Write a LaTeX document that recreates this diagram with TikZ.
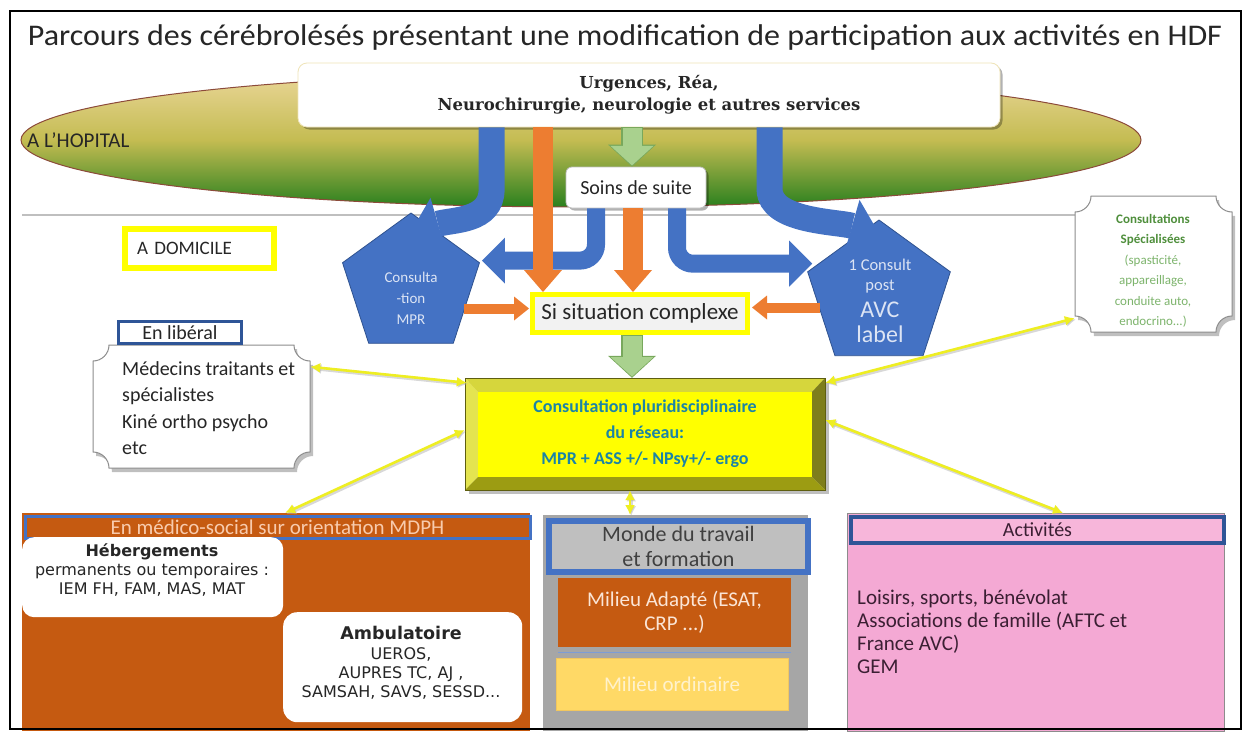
\documentclass[tikz,border=0pt]{standalone}
\usepackage{fontspec}
\setmainfont{Carlito}
\newfontfamily\serifbf{DejaVu Serif}
\newfontfamily\verd{DejaVu Sans}
\usetikzlibrary{arrows.meta,shapes.geometric,shadows,calc}
\newcommand\fsz[2]{\fontsize{#1}{#2}\selectfont}
\definecolor{cblue}{HTML}{4472C4}
\definecolor{cbluedk}{HTML}{2F528F}
\definecolor{cdblue}{HTML}{2F5597}
\definecolor{corange}{HTML}{ED7D31}
\definecolor{cgreenf}{HTML}{A9D18E}
\definecolor{cgreend}{HTML}{78A85C}
\definecolor{cyel}{HTML}{FFFF00}
\definecolor{cya}{HTML}{EEEE22}
\definecolor{cbrown}{HTML}{C55A11}
\definecolor{cpeach}{HTML}{F8CBAD}
\definecolor{cgray}{HTML}{A6A6A6}
\definecolor{cgrayl}{HTML}{BFBFBF}
\definecolor{cdgray}{HTML}{404040}
\definecolor{cadapt}{HTML}{FBE5D6}
\definecolor{cordi}{HTML}{FFD966}
\definecolor{corditx}{HTML}{FFF2CC}
\definecolor{cpink}{HTML}{F4A9D4}
\definecolor{cpinkh}{HTML}{F7B6DA}
\definecolor{cpurp}{HTML}{3B1F33}
\definecolor{cteal}{HTML}{1B84A6}
\definecolor{cspeca}{HTML}{4F8F3C}
\definecolor{cspecb}{HTML}{7DB46C}
\definecolor{ctitle}{HTML}{262626}
\definecolor{chosp}{HTML}{8C4A3A}
\definecolor{chtop}{HTML}{EAD698}
\definecolor{chmid}{HTML}{C4BC52}
\definecolor{chbot}{HTML}{2A801E}
\definecolor{curgb}{HTML}{EFE4B8}
\definecolor{csig}{HTML}{F2F2F2}
\definecolor{bevtop}{HTML}{D6D63C}
\definecolor{bevleft}{HTML}{E4E450}
\definecolor{bevright}{HTML}{7E7E1C}
\definecolor{bevbot}{HTML}{9C9C12}
\definecolor{bevedge}{HTML}{5E5E10}
\definecolor{cptext}{HTML}{DCE4F4}
\begin{document}
\begin{tikzpicture}[x=1pt,y=-1pt,
  every node/.style={inner sep=0pt},
  shad/.style={drop shadow={shadow xshift=2.5pt,shadow yshift=-2.5pt,opacity=0.3,fill=black}},
  pent/.style={regular polygon,regular polygon sides=5,fill=cblue,draw=cbluedk,line width=0.8},
  ptext/.style={align=center,text=cptext},
  bigblue/.style={draw=cblue,line width=26,-{Triangle[length=28pt,width=54pt,line width=0pt]}},
  smallblue/.style={draw=cblue,line width=18,rounded corners=16,-{Triangle[length=23pt,width=46pt,line width=0pt]}},
  orv/.style={draw=corange,line width=20,-{Triangle[length=22pt,width=38pt,line width=0pt]}},
  orh/.style={draw=corange,line width=10,-{Triangle[length=15pt,width=24pt,line width=0pt]}},
  grnout/.style={draw=cgreend,line width=22,-{Triangle[length=22pt,width=48pt,line width=0pt]}},
  grnin/.style={draw=cgreenf,line width=19,-{Triangle[length=19.5pt,width=43pt,line width=0pt]}},
  ya/.style={draw=cya,line width=2.6,{Latex[length=10pt,width=10pt]}-{Latex[length=10pt,width=10pt]},
    preaction={draw=black!30,line width=4,opacity=0.5,transform canvas={shift={(1.2pt,-1.2pt)}}}},
  plaque/.style={fill=white,draw=black!45,line width=1}
]
\fill[white] (0,0) rectangle (1250,731);
\useasboundingbox (0,0) rectangle (1250,731);

% hospital band
\draw[black!25,line width=1.5] (22,215) -- (1075,215);
\node[ellipse,minimum width=1120,minimum height=134,draw=chosp,line width=1,
  top color=chtop,bottom color=chbot,middle color=chmid] (hop) at (581,140) {};
\node[anchor=west,font=\fsz{21}{21},text=ctitle] (hoplbl) at (27,140) {A L’HOPITAL};

% pentagons
\node[pent,minimum size=144] (mpr) at (411,285) {};
\node[pent,minimum size=150] (avc) at (879,295) {};

% top boxes
\node[fill=white,draw=curgb,line width=0.8,rounded corners=9,minimum width=702,minimum height=64,shad,
  align=center,font=\serifbf\bfseries\fsz{16.5}{22},text=ctitle] (urg) at (649,95)
  {Urgences, Réa,\\Neurochirurgie, neurologie et autres services};
\node[fill=white,draw=black!25,line width=0.8,rounded corners=6,minimum width=140,minimum height=41,shad,
  font=\fsz{20}{20},text=ctitle] (soins) at (636,187.5) {Soins de suite};
\node[fill=csig,draw=cyel,line width=5,minimum width=215,minimum height=38,shad,
  font=\fsz{23}{23},text=ctitle] (si) at (640,313.5) {Si situation complexe};

% bevel box
\fill[black,opacity=0.25] (469,382) rectangle (829,494);
\fill[bevtop] (465,378) -- (825,378) -- (812,392) -- (478,392) -- cycle;
\fill[bevleft] (465,378) -- (478,392) -- (478,477) -- (465,490) -- cycle;
\fill[bevright] (825,378) -- (825,490) -- (812,477) -- (812,392) -- cycle;
\fill[bevbot] (465,490) -- (478,477) -- (812,477) -- (825,490) -- cycle;
\fill[cyel] (478,392) rectangle (812,477);
\draw[bevedge,line width=0.8] (465,378) rectangle (825,490);
\node[minimum width=360,minimum height=112,align=center,font=\bfseries\fsz{18}{26},text=cteal] (pluri) at (645,434)
  {Consultation pluridisciplinaire\\du réseau:\\MPR + ASS +/- NPsy+/- ergo};

% blue arrows
\coordinate (bl) at ($(urg.south west)+(194,0)$);
\coordinate (br) at ($(urg.south west)+(472,0)$);
\draw[bigblue] (bl) -- ++(0,62) .. controls +(0,32) and +(42,-12) .. ($(mpr.corner 1)+(0,19)$);
\draw[bigblue] (br) -- ++(0,62) .. controls +(0,32) and +(-42,-12) .. ($(avc.corner 1)+(0,14)$);
\draw[smallblue] ($(soins.south)+(-40,0)$) |- ($(mpr.corner 5)+(2,-2)$);
\draw[smallblue] ($(soins.south)+(41,0)$) |- ($(avc.corner 2)+(5,-8)$);

% pentagon texts
\node[ptext,font=\fsz{15}{21}] (mprt) at (411,298) {Consulta\\-tion\\MPR};
\node[ptext,font=\fsz{16.5}{20}] (avct) at (880,301) {1 Consult\\post\\[7pt]{\fsz{24}{25}AVC}\\[5pt]{\fsz{24}{25}label}};

% orange arrows
\coordinate (o1) at ($(si.north west)+(13,0)$);
\coordinate (o2) at ($(si.north)+(-7,0)$);
\draw[orv] (urg.south -| o1) -- (o1);
\draw[orv] (soins.south -| o2) -- (o2);
\draw[orh] ($(si.west)+(-66,-5)$) -- ($(si.west)+(-1,-5)$);
\draw[orh] ($(si.east)+(70,-6)$) -- ($(si.east)+(2,-6)$);

% green arrows
\coordinate (gx) at ($(si.north)+(-8,0)$);
\draw[grnout] (urg.south -| gx) -- (soins.north -| gx);
\draw[grnin] ($(urg.south -| gx)+(0,1)$) -- ($(soins.north -| gx)+(0,-1.2)$);
\draw[grnout] (si.south -| gx) -- (pluri.north -| gx);
\draw[grnin] ($(si.south -| gx)+(0,1)$) -- ($(pluri.north -| gx)+(0,-1.2)$);

% A domicile
\node[fill=white,draw=cyel,line width=6,minimum width=149,minimum height=39,shad,
  text width=125,inner xsep=12,align=left,font=\fsz{19}{19},text=ctitle] (dom) at (199.5,248.5) {A DOMICILE};

% En liberal plaque
\fill[black,opacity=0.25] (112,349) -- (297,349) .. controls (297,357.8) and (304.2,365) .. (313,365) -- (313,456) .. controls (304.2,456) and (297,463.2) .. (297,472) -- (112,472) .. controls (112,463.2) and (104.8,456) .. (96,456) -- (96,365) .. controls (104.8,365) and (112,357.8) .. (112,349) -- cycle;
\draw[plaque] (109,345) -- (294,345) .. controls (294,353.8) and (301.2,361) .. (310,361) -- (310,452) .. controls (301.2,452) and (294,459.2) .. (294,468) -- (109,468) .. controls (109,459.2) and (101.8,452) .. (93,452) -- (93,361) .. controls (101.8,361) and (109,353.8) .. (109,345) -- cycle;
\node[minimum width=217,minimum height=123] (lib) at (201.5,406.5) {};
\node[anchor=west,align=left,font=\fsz{20}{26.3},text=ctitle] (libt) at (122,408)
  {Médecins traitants et\\spécialistes\\Kiné ortho psycho\\etc};
\node[fill=white,draw=cdblue,line width=3,minimum width=123,minimum height=22,font=\fsz{20}{20},text=ctitle] (libh) at (180,332.5) {En libéral};

% Consultations specialisees plaque
\fill[black,opacity=0.25] (1094,200) -- (1219,200) .. controls (1219,208.8) and (1226.2,216) .. (1235,216) -- (1235,320) .. controls (1226.2,320) and (1219,327.2) .. (1219,336) -- (1094,336) .. controls (1094,327.2) and (1086.8,320) .. (1078,320) -- (1078,216) .. controls (1086.8,216) and (1094,208.8) .. (1094,200) -- cycle;
\draw[plaque] (1091,196) -- (1216,196) .. controls (1216,204.8) and (1223.2,212) .. (1232,212) -- (1232,316) .. controls (1223.2,316) and (1216,323.2) .. (1216,332) -- (1091,332) .. controls (1091,323.2) and (1083.8,316) .. (1075,316) -- (1075,212) .. controls (1083.8,212) and (1091,204.8) .. (1091,196) -- cycle;
\node[minimum width=157,minimum height=136] (spec) at (1153.5,264) {};
\node[align=center,font=\fsz{13}{20.5}] (spect) at (1153,271)
  {\textcolor{cspeca}{\bfseries Consultations}\\\textcolor{cspeca}{\bfseries Spécialisées}\\\textcolor{cspecb}{(spasticité,}\\\textcolor{cspecb}{appareillage,}\\\textcolor{cspecb}{conduite auto,}\\\textcolor{cspecb}{endocrino...)}};

% medico-social panel
\node[fill=cbrown,minimum width=508,minimum height=218,anchor=north west] (med) at (22,513) {};
\node[draw=cblue,line width=3,minimum width=505,minimum height=22,anchor=north west,
  font=\fsz{21}{21},text=cpeach] (medh) at (23.5,514.5) {En médico-social sur orientation MDPH};
\node[fill=white,rounded corners=12,minimum width=261,minimum height=80,anchor=north west] (heb) at (22,537) {};
\node[align=center,font=\verd\fsz{16}{19},text=ctitle] (hebt) at (152,570)
  {{\bfseries Hébergements}\\permanents ou temporaires :\\IEM FH, FAM, MAS, MAT};
\node[fill=white,rounded corners=14,minimum width=239,minimum height=110,anchor=north west] (amb) at (283,612) {};
\node[align=center,font=\verd\fsz{16}{19.3},text=ctitle] (ambt) at (401,663)
  {{\fsz{17.5}{19.3}\bfseries Ambulatoire}\\UEROS,\\AUPRES TC, AJ ,\\SAMSAH, SAVS, SESSD...};

% travail panel
\node[fill=cgray,minimum width=265,minimum height=216,anchor=north west] (trav) at (543,515) {};
\node[fill=cgrayl,draw=cblue,line width=6,minimum width=259,minimum height=51,anchor=north west,
  align=center,font=\fsz{22}{25},text=cdgray] (travh) at (546,518) {Monde du travail\\et formation};
\node[fill=cbrown,minimum width=233,minimum height=69,align=center,font=\fsz{21}{24},text=cadapt] (adap) at (674.5,612.5)
  {Milieu Adapté (ESAT,\\CRP ...)};
\draw[cblue!70,line width=1] (558,652) -- (791,652);
\node[fill=cordi,draw=cordi!80!brown,line width=0.6,minimum width=232,minimum height=52,font=\fsz{21}{21},text=corditx] (ordi) at (672,684)
  {Milieu ordinaire};

% activites panel
\node[fill=cpink,draw=black!45,line width=0.8,minimum width=377,minimum height=218,anchor=north west] (act) at (847,513) {};
\node[fill=cpinkh,draw=cdblue,line width=4,minimum width=373,minimum height=26,anchor=north west,
  font=\fsz{20}{20},text=cpurp] (acth) at (849,515) {Activités};
\node[anchor=west,align=left,font=\fsz{21}{23},text=cpurp] (actt) at (857,632)
  {Loisirs, sports, bénévolat\\Associations de famille (AFTC et\\France AVC)\\GEM};

% yellow double arrows
\draw[ya] ($(lib.north east)+(0,22)$) -- ($(pluri.north west)+(2,5)$);
\draw[ya] ($(pluri.west)+(0,-4)$) -- ($(med.north west)+(263,0)$);
\coordinate (yx) at ($(pluri.south)+(-15,0)$);
\draw[ya] (yx) -- (trav.north -| yx);
\draw[ya] ($(pluri.north east)+(0,5)$) -- ($(spec.south west)+(0,-14)$);
\draw[ya] ($(pluri.east)+(0,-14)$) -- ($(act.north west)+(216,0)$);

% title and frame
\node[font=\fsz{30}{30},text=ctitle] (title) at (625,37)
  {\resizebox{1194pt}{\height}{Parcours des cérébrolésés présentant une modification de participation aux activités en HDF}};
\draw[black,line width=2.5] (10,11) rectangle (1241,729);
\end{tikzpicture}
\end{document}
